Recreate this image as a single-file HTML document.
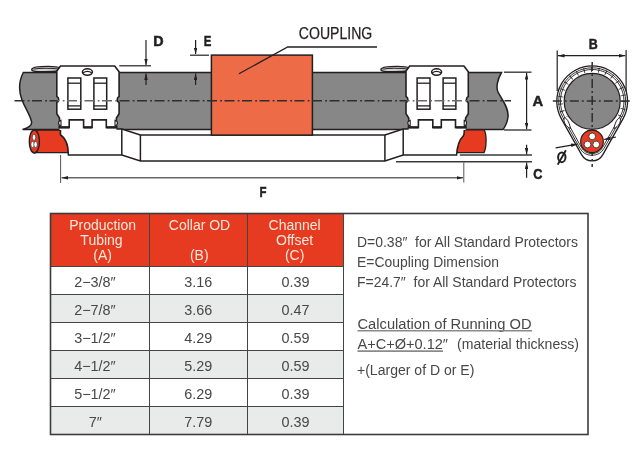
<!DOCTYPE html>
<html><head><meta charset="utf-8">
<style>
html,body{margin:0;padding:0;background:#fff;width:641px;height:451px;overflow:hidden}
svg{position:absolute;left:0;top:0;display:block;will-change:transform}
text{font-family:"Liberation Sans",sans-serif}
</style></head>
<body>
<svg width="641" height="451" viewBox="0 0 641 451">
<defs>
  <marker id="ah" viewBox="0 0 10 10" refX="10" refY="5" markerUnits="userSpaceOnUse" markerWidth="6.5" markerHeight="3.6" preserveAspectRatio="none" orient="auto-start-reverse">
    <path d="M0,0 L10,5 L0,10 z" fill="#231f20"/>
  </marker>
</defs>
<rect width="641" height="451" fill="#fff"/>

<!-- ============ SIDE VIEW ============ -->
<!-- pipe -->
<path d="M23.3,72.5 L501.5,72.5 C497,80 496,88 498,92 C502,100 509,108 508,117 C507,124 505,127 503,129.5 L22.5,129.5 C28,128 32,126 31.6,122 C30,114 25,108 22,100 C19,92 18.5,82 23.3,72.5 Z" fill="#878787" stroke="#231f20" stroke-width="1.5"/>

<!-- left red cable -->
<path d="M34.3,130 L60.5,130 L60.5,134.7 C63.5,137 67,142 67.9,148 L68.3,152.6 L34.3,152.6 Z" fill="#e63a21" stroke="#231f20" stroke-width="1.3"/>
<ellipse cx="34.35" cy="141.5" rx="5.1" ry="11.5" fill="#e63a21" stroke="#231f20" stroke-width="1.3"/>
<ellipse cx="34" cy="137.3" rx="1.7" ry="3.1" fill="#fff" stroke="#231f20" stroke-width="0.6"/>
<ellipse cx="32.6" cy="144.5" rx="1.7" ry="3.1" fill="#fff" stroke="#231f20" stroke-width="0.6"/>
<ellipse cx="35.6" cy="144.5" rx="1.7" ry="3.1" fill="#fff" stroke="#231f20" stroke-width="0.6"/>

<!-- right red cable -->
<path d="M464.3,129.8 L484.1,129.8 C487,134 486.5,148 484,152.6 L456.8,152.6 C457.5,146 459,140 462.8,136.5 C464,135.5 464.3,134 464.3,129.8 Z" fill="#e63a21" stroke="#231f20" stroke-width="1.3"/>

<!-- body -->
<path d="M60,129 L121.8,129 L140.4,135 L384.9,135 L403.2,129 L464.3,129 C464.3,134 464,135.5 462.8,136.5 C459,140 457,148 456.6,155 L403.2,155 L384.9,161 L140.4,161 L121.8,155 L68.4,155 L67.9,148 C67,142 63.5,137 60.5,134.7 L60.5,129 Z" fill="#fff" stroke="#231f20" stroke-width="1.5"/>
<line x1="121.8" y1="129" x2="121.8" y2="155" stroke="#231f20" stroke-width="1.5"/>
<line x1="140.4" y1="135" x2="140.4" y2="161" stroke="#231f20" stroke-width="1.5"/>
<line x1="384.9" y1="135" x2="384.9" y2="161" stroke="#231f20" stroke-width="1.5"/>
<line x1="403.2" y1="129" x2="403.2" y2="155" stroke="#231f20" stroke-width="1.5"/>

<!-- coupling -->
<rect x="211.4" y="55.1" width="101" height="80" fill="#ed6b47" stroke="#231f20" stroke-width="1.5"/>

<!-- bands -->
<g id="band">
<path d="M31.8,69.3 C32.5,66.9 42,66.4 48,66.4 C53,66.5 58,66.9 60,67.8 L58.5,70.8 C54,71.7 45,71.8 38,71.6 C33,71.3 31.5,70.6 31.8,69.3 Z" fill="#d6d2d2" stroke="#231f20" stroke-width="1.4"/>
<path d="M33.5,69.1 C40,68 50,68 58.5,69" fill="none" stroke="#231f20" stroke-width="1"/>
</g>
<use href="#band" x="349.2" y="0"/>

<!-- clips -->
<g id="clip">
  <rect x="59.5" y="118" width="56.9" height="12" fill="#fff"/>
  <path d="M60.5,66 L114.7,66 L119.1,71.8 L119.1,96.4 C116.6,97.4 116.6,101.6 119.1,102.6 L119.1,113.7 L116.4,118 L116.4,127.4 L106.3,127.4 L106.3,119.9 L92.1,119.9 L92.1,127.4 L83.6,127.4 L83.6,119.9 L69.2,119.9 L69.2,127.4 L59.5,127.4 L59.5,118 L56.8,113.7 L56.8,102.6 C59.3,101.6 59.3,97.4 56.8,96.4 L56.8,70.9 Z" fill="#fff" stroke="#231f20" stroke-width="1.6" stroke-linejoin="miter"/>
  <path d="M58.5,127.4 L69.4,127.4 M83.5,127.4 L92.1,127.4 M106.3,127.4 L117.5,127.4" stroke="#231f20" stroke-width="2.4" fill="none"/>
  <path d="M61,120.2 C57.8,120.8 57.8,125.4 61,126 Z" fill="#fff" stroke="#231f20" stroke-width="1.1"/>
  <path d="M115,120.2 C118.2,120.8 118.2,125.4 115,126 Z" fill="#fff" stroke="#231f20" stroke-width="1.1"/>
  <ellipse cx="87.4" cy="72.05" rx="5" ry="3.2" fill="#fff" stroke="#231f20" stroke-width="1.5"/>
  <path d="M82.9,72.9 Q87.4,69.9 91.9,72.9" fill="none" stroke="#231f20" stroke-width="1.2"/>
  <rect x="67.9" y="78" width="12.9" height="31.2" fill="#fff" stroke="#231f20" stroke-width="1.5"/>
  <line x1="67.9" y1="83.2" x2="80.8" y2="83.2" stroke="#231f20" stroke-width="1.3"/>
  <line x1="67.9" y1="105.9" x2="80.8" y2="105.9" stroke="#231f20" stroke-width="1.3"/>
  <rect x="93.9" y="78" width="12.8" height="31.2" fill="#fff" stroke="#231f20" stroke-width="1.5"/>
  <line x1="93.9" y1="83.2" x2="106.7" y2="83.2" stroke="#231f20" stroke-width="1.3"/>
  <line x1="93.9" y1="105.9" x2="106.7" y2="105.9" stroke="#231f20" stroke-width="1.3"/>
</g>
<use href="#clip" x="349.2" y="0"/>

<!-- centerline -->
<clipPath id="cl-out"><rect x="0" y="90" width="57.6" height="20"/><rect x="118.3" y="90" width="288.6" height="20"/><rect x="467.5" y="90" width="100" height="20"/></clipPath>
<clipPath id="cl-in"><rect x="57.6" y="90" width="60.7" height="20"/><rect x="406.9" y="90" width="60.6" height="20"/></clipPath>
<line x1="14.5" y1="100.75" x2="511" y2="100.75" stroke="#2e2e2e" stroke-width="1.7" stroke-dasharray="10,3.2,1.8,2.5" clip-path="url(#cl-out)"/>
<line x1="14.5" y1="100.75" x2="511" y2="100.75" stroke="#6a6a6a" stroke-width="1.6" stroke-dasharray="10,3.2,1.8,2.5" clip-path="url(#cl-in)"/>

<!-- D dimension -->
<line x1="119.3" y1="65.8" x2="151" y2="65.8" stroke="#231f20" stroke-width="1.2"/>
<line x1="146" y1="40" x2="146" y2="65" stroke="#231f20" stroke-width="1.2" marker-end="url(#ah)"/>
<line x1="146" y1="85" x2="146" y2="73.5" stroke="#231f20" stroke-width="1.2" marker-end="url(#ah)"/>
<text x="153.2" y="46.2" font-size="14.3" font-weight="bold" fill="#231f20" stroke="#231f20" stroke-width="0.5">D</text>
<!-- E dimension -->
<line x1="190" y1="55.2" x2="209" y2="55.2" stroke="#231f20" stroke-width="1.2"/>
<line x1="195.6" y1="40" x2="195.6" y2="54" stroke="#231f20" stroke-width="1.2" marker-end="url(#ah)"/>
<line x1="195.6" y1="85" x2="195.6" y2="73.5" stroke="#231f20" stroke-width="1.2" marker-end="url(#ah)"/>
<text x="203.8" y="46.2" font-size="14.3" font-weight="bold" fill="#231f20" stroke="#231f20" stroke-width="0.5" textLength="7.6" lengthAdjust="spacingAndGlyphs">E</text>

<!-- COUPLING -->
<text x="298.8" y="38.8" font-size="16.6" fill="#231f20" stroke="#231f20" stroke-width="0.25" textLength="73.5" lengthAdjust="spacingAndGlyphs">COUPLING</text>
<polyline points="377,47 287.7,47 239,73.7" fill="none" stroke="#231f20" stroke-width="1.3"/>

<!-- A dimension -->
<line x1="504" y1="72.2" x2="531.5" y2="72.2" stroke="#3a3a3a" stroke-width="1.4"/>
<line x1="504" y1="130" x2="531.5" y2="130" stroke="#3a3a3a" stroke-width="1.4"/>
<line x1="526.6" y1="73" x2="526.6" y2="129.2" stroke="#231f20" stroke-width="1.2" marker-start="url(#ah)" marker-end="url(#ah)"/>
<text x="532.5" y="106.2" font-size="14.8" font-weight="bold" fill="#231f20" stroke="#231f20" stroke-width="0.5">A</text>

<!-- C dimension -->
<line x1="459.8" y1="155" x2="532" y2="155" stroke="#3a3a3a" stroke-width="1.4"/>
<line x1="396" y1="161.7" x2="532" y2="161.7" stroke="#3a3a3a" stroke-width="1.4"/>
<line x1="526.6" y1="144.8" x2="526.6" y2="154.5" stroke="#231f20" stroke-width="1.2" marker-end="url(#ah)"/>
<line x1="526.6" y1="177.7" x2="526.6" y2="162.5" stroke="#231f20" stroke-width="1.2" marker-end="url(#ah)"/>
<text x="533.2" y="179.4" font-size="14.5" font-weight="bold" fill="#231f20" stroke="#231f20" stroke-width="0.5" textLength="9.2" lengthAdjust="spacingAndGlyphs">C</text>

<!-- F dimension -->
<line x1="60.6" y1="155" x2="60.6" y2="183" stroke="#555" stroke-width="1"/>
<line x1="463.8" y1="162.5" x2="463.8" y2="182.5" stroke="#555" stroke-width="1"/>
<line x1="61.5" y1="177.8" x2="463" y2="177.8" stroke="#666" stroke-width="1.4" marker-start="url(#ah)" marker-end="url(#ah)"/>
<text x="259.6" y="196.9" font-size="15" font-weight="bold" fill="#231f20" stroke="#231f20" stroke-width="0.5" textLength="7" lengthAdjust="spacingAndGlyphs">F</text>

<!-- ============ END VIEW ============ -->
<g id="endview">
  <!-- B dimension -->
  <line x1="557.2" y1="50.4" x2="557.2" y2="91" stroke="#231f20" stroke-width="1.2"/>
  <line x1="626.1" y1="50" x2="626.1" y2="103" stroke="#231f20" stroke-width="1.2"/>
  <line x1="558" y1="55.7" x2="625.3" y2="55.7" stroke="#231f20" stroke-width="1.2" marker-start="url(#ah)" marker-end="url(#ah)"/>
  <text x="588.8" y="48.8" font-size="14.3" font-weight="bold" fill="#231f20" stroke="#231f20" stroke-width="0.5" textLength="9" lengthAdjust="spacingAndGlyphs">B</text>
  <!-- outer band teardrop -->
  <path d="M561.3,118.6 A35.4,35.4 0 1 1 623.1,118.6 L602.85,154.65 A12.2,12.2 0 0 1 581.55,154.65 Z" fill="#fff" stroke="#231f20" stroke-width="1.3"/>
  <path d="M562.97,117.67 A33.5,33.5 0 1 1 621.43,117.67 L604.13,148.19 A13.9,13.9 0 0 1 579.87,148.19 Z" fill="none" stroke="#231f20" stroke-width="0.9"/>
  <path d="M564.46,116.84 A31.8,31.8 0 1 1 619.94,116.84 L602.64,147.36 A12.2,12.2 0 0 1 581.36,147.36 Z" fill="none" stroke="#231f20" stroke-width="0.9"/>
  <clipPath id="topring"><rect x="540" y="55" width="100" height="62"/></clipPath>
  <g clip-path="url(#topring)">
    <circle cx="592.2" cy="101.3" r="31.7" fill="none" stroke="#231f20" stroke-width="5" stroke-dasharray="0.9,6.5" opacity="0.9"/>
    
  </g>
  <path d="M564.5,117.5 C562.5,121 566,127 570.5,128.5 C569.5,124 568,119 564.5,117.5 Z" fill="#fff" stroke="#231f20" stroke-width="1"/>
  <path d="M619.9,117.5 C621.9,121 618.4,127 613.9,128.5 C614.9,124 616.4,119 619.9,117.5 Z" fill="#fff" stroke="#231f20" stroke-width="1"/>
  <circle cx="592.2" cy="101.3" r="28" fill="#878787" stroke="#231f20" stroke-width="1.2"/>
  <line x1="552.8" y1="101" x2="630" y2="101" stroke="#2e2e2e" stroke-width="1.5" stroke-dasharray="9,3,2,3"/>
  <line x1="592.2" y1="62" x2="592.2" y2="167" stroke="#2e2e2e" stroke-width="1.5" stroke-dasharray="9,3,2,3"/>
  <circle cx="592" cy="141.4" r="11.3" fill="#e63a21" stroke="#231f20" stroke-width="1.2"/>
  <circle cx="592.2" cy="136.4" r="3.4" fill="#fff" stroke="#231f20" stroke-width="0.8"/>
  <circle cx="587.5" cy="144.5" r="3.4" fill="#fff" stroke="#231f20" stroke-width="0.8"/>
  <circle cx="596.2" cy="144.5" r="3.4" fill="#fff" stroke="#231f20" stroke-width="0.8"/>
  <!-- Ø leader -->
  <line x1="555.6" y1="147.8" x2="577.5" y2="144.2" stroke="#231f20" stroke-width="1.2" marker-end="url(#ah)"/>
  <line x1="616" y1="137" x2="604" y2="139.5" stroke="#231f20" stroke-width="1.2" marker-end="url(#ah)"/>
  <ellipse cx="561.8" cy="157.3" rx="3.7" ry="4.9" fill="none" stroke="#231f20" stroke-width="2"/>
  <line x1="565.9" y1="150.3" x2="557.7" y2="164.6" stroke="#231f20" stroke-width="1.9"/>
</g>

<!-- ============ TABLE ============ -->
<g id="table">
  <rect x="50" y="213" width="293" height="53" fill="#e63a21"/>
  <rect x="50" y="294" width="293" height="28" fill="#e9ebea"/>
  <rect x="50" y="350" width="293" height="28" fill="#e9ebea"/>
  <rect x="50" y="406" width="293" height="28" fill="#e9ebea"/>
  <g stroke="#444" stroke-width="1">
    <line x1="50" y1="266.5" x2="343" y2="266.5"/>
    <line x1="50" y1="294.5" x2="343" y2="294.5"/>
    <line x1="50" y1="322.5" x2="343" y2="322.5"/>
    <line x1="50" y1="350.5" x2="343" y2="350.5"/>
    <line x1="50" y1="378.5" x2="343" y2="378.5"/>
    <line x1="50" y1="406.5" x2="343" y2="406.5"/>
    <line x1="149.5" y1="213" x2="149.5" y2="434"/>
    <line x1="247.5" y1="213" x2="247.5" y2="434"/>
    <line x1="343.5" y1="213" x2="343.5" y2="434"/>
  </g>
  <rect x="50.5" y="213.5" width="537.5" height="221" fill="none" stroke="#3c3c3c" stroke-width="1.6"/>
  <g font-size="14" fill="#f7e9dc" text-anchor="middle">
    <text x="102.6" y="230.0">Production</text>
    <text x="101.5" y="244.8">Tubing</text>
    <text x="102.6" y="260.4">(A)</text>
    <text x="199.5" y="230.0">Collar OD</text>
    <text x="199.3" y="260.4">(B)</text>
    <text x="294.6" y="230.0">Channel</text>
    <text x="294.6" y="244.8">Offset</text>
    <text x="294.6" y="260.4">(C)</text>
  </g>
  <g font-size="14.4" fill="#474747" text-anchor="middle">
    <text x="94.9" y="287">2−3/8″</text>
    <text x="94.9" y="315">2−7/8″</text>
    <text x="94.9" y="343">3−1/2″</text>
    <text x="94.9" y="371">4−1/2″</text>
    <text x="94.9" y="399">5−1/2″</text>
    <text x="95.2" y="427">7″</text>
    <text x="198.2" y="287">3.16</text>
    <text x="198.2" y="315">3.66</text>
    <text x="198.2" y="343">4.29</text>
    <text x="198.2" y="371">5.29</text>
    <text x="198.2" y="399">6.29</text>
    <text x="198.2" y="427">7.79</text>
    <text x="295.6" y="287">0.39</text>
    <text x="295.6" y="315">0.47</text>
    <text x="295.6" y="343">0.59</text>
    <text x="295.6" y="371">0.59</text>
    <text x="295.6" y="399">0.39</text>
    <text x="295.6" y="427">0.39</text>
  </g>
  <g font-size="14" fill="#474747">
    <text x="357" y="246.8" textLength="221" lengthAdjust="spacingAndGlyphs" xml:space="preserve">D=0.38″  for All Standard Protectors</text>
    <text x="357" y="267" textLength="142" lengthAdjust="spacingAndGlyphs">E=Coupling Dimension</text>
    <text x="357" y="287.1" textLength="219.5" lengthAdjust="spacingAndGlyphs" xml:space="preserve">F=24.7″  for All Standard Protectors</text>
    <text x="357.5" y="328.7" textLength="174" lengthAdjust="spacingAndGlyphs">Calculation of Running OD</text>
    <text x="357.5" y="349.3" textLength="90.5" lengthAdjust="spacingAndGlyphs">A+C+Ø+0.12″</text>
    <text x="457" y="349.3" textLength="122" lengthAdjust="spacingAndGlyphs">(material thickness)</text>
    <text x="357" y="374.9" textLength="117.4" lengthAdjust="spacingAndGlyphs">+(Larger of D or E)</text>
  </g>
  <line x1="357.5" y1="330.7" x2="532" y2="330.7" stroke="#8a8a8a" stroke-width="1.6"/>
  <line x1="357.5" y1="351.1" x2="443" y2="351.1" stroke="#8a8a8a" stroke-width="1.6"/>
</g>
</svg>
</body></html>
